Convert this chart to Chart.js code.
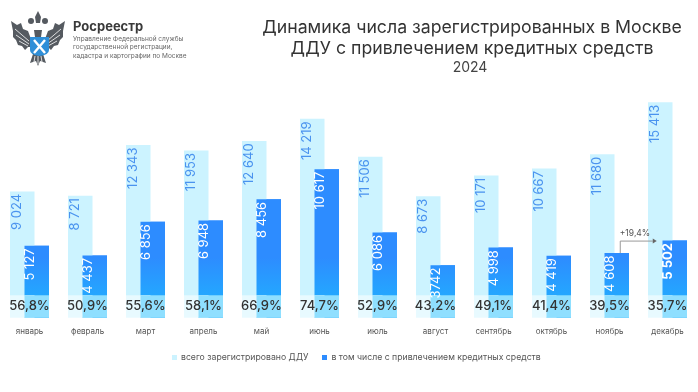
<!DOCTYPE html>
<html>
<head>
<meta charset="utf-8">
<script src="https://cdn.jsdelivr.net/npm/chart.js@4"></script>
<style>
html, body { margin: 0; padding: 0; background: #fff; overflow: hidden; }
body { width: 698px; height: 392px; position: relative; font-family: Inter, sans-serif; }
#wrap { position: absolute; left: 0; top: 0; width: 698px; height: 392px; }
.t { position: absolute; white-space: nowrap; }
#title { left: 232px; width: 480px; top: 16px; text-align: center; font-size: 17.7px; line-height: 21px; color: #333; }
#year { left: 230px; width: 480px; top: 58px; text-align: center; font-size: 14px; line-height: 17px; color: #444; }
#brand { left: 73px; top: 17px; font-size: 13px; line-height: 18px; font-weight: 700; color: #3a3a3a; }
#org { left: 73px; top: 35px; font-size: 6.5px; line-height: 8.3px; color: #666; }
#legend { left: 172px; top: 351px; font-size: 8.7px; line-height: 12px; color: #555; display: flex; }
#legend span.k { display: inline-block; width: 5px; height: 5px; margin: 3.5px 4px 0 0; }
#legend div { margin-right: 14px; }
#logo { position: absolute; left: 9px; top: 9px; }
</style>
</head>
<body>
<div id="wrap"><canvas id="myChart" width="698" height="392"></canvas></div>

<svg id="logo" width="58" height="58" viewBox="0 0 58 58">
  <g fill="#555a60">
    <path d="M2 12 L8 16 L12 14 L14 20 L19 22 L22 30 L25 33 L24 38 L19 38 L16 41 L13 37 L9 36 L7 31 L4 28 L4 22 Z"/>
    <path d="M56 12 L50 16 L46 14 L44 20 L39 22 L36 30 L33 33 L34 38 L39 38 L42 41 L45 37 L49 36 L51 31 L54 28 L54 22 Z"/>
    <path d="M24 45 L34 45 L37 54 L31 52 L29 57 L27 52 L21 54 Z"/>
    <path d="M25 21 L33 21 L32 28 L26 28 Z"/>
    <circle cx="22" cy="12" r="3"/><circle cx="36" cy="12" r="3"/>
    <path d="M26 8 L29 2 L32 8 L31 14 L27 14 Z"/>
  </g>
  <g stroke="#fff" stroke-width="0.8" fill="none">
    <path d="M6 20 L20 32 M7 26 L20 35 M10 32 L19 37 M52 20 L38 32 M51 26 L38 35 M48 32 L39 37"/>
    <path d="M26 47 L25 53 M29 47 L29 55 M32 47 L33 53"/>
  </g>
  <path d="M21 28 L40 28 L40 41 Q40 46 30.5 47 Q21 46 21 41 Z" fill="#2f8fd8"/>
  <path d="M25 31 L36 44 M36 31 L25 44" stroke="#fff" stroke-width="2.4"/>
</svg>

<div class="t" id="brand">Росреестр</div>
<div class="t" id="org">Управление Федеральной службы<br>государственной регистрации,<br>кадастра и картографии по Москве</div>
<div class="t" id="title">Динамика числа зарегистрированных в Москве<br>ДДУ с привлечением кредитных средств</div>
<div class="t" id="year">2024</div>
<div class="t" id="legend">
  <div><span class="k" style="background:#ccf3ff"></span>всего зарегистрировано ДДУ</div>
  <div><span class="k" style="background:#2d8cff"></span>в том числе с привлечением кредитных средств</div>
</div>

<script>
var months = ["январь", "февраль", "март", "апрель", "май", "июнь", "июль", "август", "сентябрь", "октябрь", "ноябрь", "декабрь"];
var total = [9024, 8721, 12343, 11953, 12640, 14219, 11506, 8673, 10171, 10667, 11680, 15413];
var credit = [5127, 4437, 6856, 6948, 8456, 10617, 6086, 3742, 4998, 4419, 4608, 5502];
var totalLabels = ["9 024", "8 721", "12 343", "11 953", "12 640", "14 219", "11 506", "8 673", "10 171", "10 667", "11 680", "15 413"];
var creditLabels = ["5 127", "4 437", "6 856", "6 948", "8 456", "10 617", "6 086", "3742", "4 998", "4 419", "4 608", "5 502"];
var shares = ["56,8%", "50,9%", "55,6%", "58,1%", "66,9%", "74,7%", "52,9%", "43,2%", "49,1%", "41,4%", "39,5%", "35,7%"];
var growth = "+19,4%";
var bandValue = 1585;

function blueGradient(context) {
    var area = context.chart.chartArea;
    if (!area) return "#2d8cff";
    var g = context.chart.ctx.createLinearGradient(0, area.bottom - 60, 0, area.bottom);
    g.addColorStop(0, "#2d8cff");
    g.addColorStop(1, "#1fb6ff");
    return g;
}

// blue bars on top, pale band at the foot of the bars, value labels, shares and the growth arrow
const barText = {
    id: "barText",
    afterDatasetsDraw: function(chart) {
        var ctx = chart.ctx;
        var y = chart.scales.y;
        var lightBars = chart.getDatasetMeta(0).data;
        var blueBars = chart.getDatasetMeta(1).data;
        var bandTop = y.getPixelForValue(bandValue);
        var base = y.getPixelForValue(0);

        // chart.js paints the first dataset last, the blue one has to overlap it
        chart.getDatasetMeta(1).controller.draw();

        ctx.save();
        months.forEach(function(m, i) {
            var a = lightBars[i], b = blueBars[i];
            ctx.fillStyle = "#e8faff";
            ctx.fillRect(a.x - a.width / 2, bandTop, a.width, base - bandTop);
            ctx.fillStyle = "#8fdfff";
            ctx.fillRect(b.x - b.width / 2, bandTop, b.width, base - bandTop);

            ctx.textBaseline = "middle";
            ctx.textAlign = "center";
            ctx.fillStyle = "#333";
            ctx.font = "500 13px Inter";
            ctx.fillText(shares[i], (a.x + b.x) / 2, (bandTop + base) / 2);

            drawUp(ctx, totalLabels[i], a.x - 5.5, a.y + 2.5, "#4a93ef", "13px Inter");
            drawUp(ctx, creditLabels[i], b.x - 6.5, b.y + 2.5, "#fff", i == 11 ? "700 13px Inter" : "13px Inter");
        });

        // november -> december
        var from = blueBars[10], to = lightBars[11];
        var ay = y.getPixelForValue(credit[11]);
        var ax = from.x + 3;
        var tip = to.x - 7.5;
        ctx.strokeStyle = "#999";
        ctx.lineWidth = 1;
        ctx.beginPath();
        ctx.moveTo(ax + 0.5, from.y);
        ctx.lineTo(ax + 0.5, ay + 0.5);
        ctx.lineTo(tip, ay + 0.5);
        ctx.stroke();
        ctx.fillStyle = "#666";
        ctx.beginPath();
        ctx.moveTo(tip + 4, ay + 0.5);
        ctx.lineTo(tip, ay - 2);
        ctx.lineTo(tip, ay + 3);
        ctx.fill();
        ctx.font = "8.5px Inter";
        ctx.textAlign = "left";
        ctx.fillStyle = "#555";
        ctx.fillText(growth, ax, ay - 7);
        ctx.restore();
    }
};

function drawUp(ctx, text, x, top, color, font) {
    ctx.save();
    ctx.translate(x, top);
    ctx.rotate(-Math.PI / 2);
    ctx.textAlign = "right";
    ctx.textBaseline = "middle";
    ctx.font = font;
    ctx.fillStyle = color;
    ctx.fillText(text, 0, 0);
    ctx.restore();
}

const myChart = new Chart(document.getElementById("myChart").getContext("2d"), {
    type: "bar",
    data: {
        labels: months,
        datasets: [
            { label: "всего зарегистрировано ДДУ", data: total, backgroundColor: "#ccf3ff" },
            { label: "в том числе с привлечением кредитных средств", data: credit, backgroundColor: blueGradient }
        ]
    },
    options: {
        responsive: false,
        animation: false,
        categoryPercentage: 0.5,
        barPercentage: 1.69,
        layout: { padding: { left: 0.5, right: 1.5, top: 94, bottom: 55 } },
        plugins: { legend: { display: false }, tooltip: { enabled: false } },
        scales: {
            x: {
                grid: { display: false },
                border: { display: false },
                ticks: { color: "#555", font: { family: "Inter", size: 8 }, padding: 1, maxRotation: 0, autoSkip: false }
            },
            y: { display: false, min: 0, max: 16000 }
        }
    },
    plugins: [barText]
});
</script>
</body>
</html>
